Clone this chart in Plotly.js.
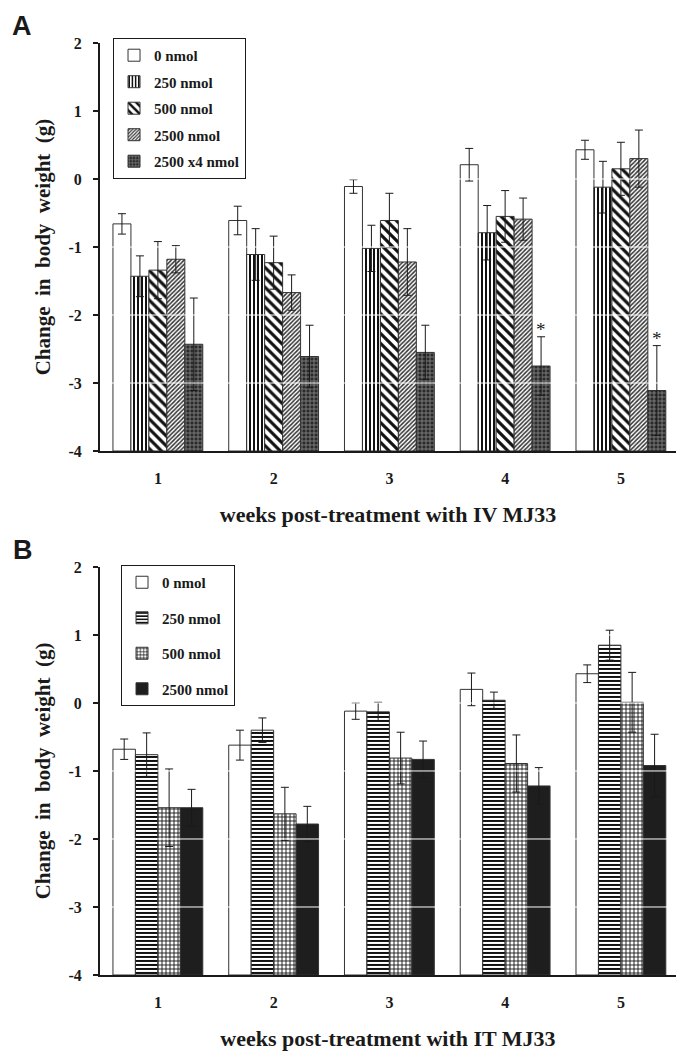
<!DOCTYPE html>
<html><head><meta charset="utf-8">
<script src="https://cdn.plot.ly/plotly-3.0.1.min.js"></script>
<style>html,body{margin:0;padding:0;background:#fff}#chart{width:676px;height:1051px}</style>
</head><body><div id="chart"></div>
<script>
// ---------- data ----------
const weeks = [1, 2, 3, 4, 5];
const yTicks = [-4, -3, -2, -1, 0, 1, 2];
const yTickText = ['-4', '-3', '-2', '-1', '0', '1', '2'];

// Panel A: IV MJ33
const seriesA = ['0 nmol', '250 nmol', '500 nmol', '2500 nmol', '2500 x4 nmol'];
const a0 = [-0.66, -0.61, -0.11, 0.21, 0.43];
const a0err = [0.15, 0.21, 0.10, 0.24, 0.14];
const a250 = [-1.43, -1.11, -1.02, -0.79, -0.12];
const a250err = [0.30, 0.38, 0.34, 0.40, 0.38];
const a500 = [-1.34, -1.23, -0.61, -0.55, 0.15];
const a500err = [0.42, 0.39, 0.40, 0.38, 0.39];
const a2500 = [-1.18, -1.67, -1.22, -0.59, 0.30];
const a2500err = [0.20, 0.26, 0.49, 0.31, 0.42];
const a2500x4 = [-2.43, -2.61, -2.55, -2.75, -3.11];
const a2500x4err = [0.68, 0.46, 0.40, 0.43, 0.66];
const sigA = ['', '', '', '*', '*'];

// Panel B: IT MJ33
const seriesB = ['0 nmol', '250 nmol', '500 nmol', '2500 nmol'];
const b0 = [-0.68, -0.62, -0.12, 0.20, 0.43];
const b0err = [0.15, 0.22, 0.12, 0.24, 0.13];
const b250 = [-0.76, -0.40, -0.13, 0.04, 0.85];
const b250err = [0.32, 0.18, 0.14, 0.12, 0.22];
const b500 = [-1.54, -1.63, -0.81, -0.89, 0.01];
const b500err = [0.57, 0.39, 0.38, 0.42, 0.44];
const b2500 = [-1.54, -1.78, -0.83, -1.22, -0.92];
const b2500err = [0.27, 0.26, 0.27, 0.27, 0.46];

// ---------- styles ----------
const FLOOR = -4;
const SERIF = 'Liberation Serif';
const SANS = 'Liberation Sans';
const ink = '#1a1a1a';
const stylesA = [
  {color: '#ffffff'},
  {color: '#ffffff', pattern: {shape: '|', fgcolor: '#111', bgcolor: '#fff', size: 4, solidity: 0.5, fillmode: 'replace'}},
  {color: '#ffffff', pattern: {shape: '\\', fgcolor: '#111', bgcolor: '#fff', size: 7, solidity: 0.45, fillmode: 'replace'}},
  {color: '#ffffff', pattern: {shape: '/', fgcolor: '#333', bgcolor: '#fff', size: 3, solidity: 0.5, fillmode: 'replace'}},
  {color: '#3a3a3a', pattern: {shape: '+', fgcolor: '#8a8a8a', bgcolor: '#2a2a2a', size: 4, solidity: 0.35, fillmode: 'replace'}}
];
const stylesB = [
  {color: '#ffffff'},
  {color: '#ffffff', pattern: {shape: '-', fgcolor: '#111', bgcolor: '#fff', size: 4, solidity: 0.5, fillmode: 'replace'}},
  {color: '#ffffff', pattern: {shape: '+', fgcolor: '#111', bgcolor: '#fff', size: 4, solidity: 0.4, fillmode: 'replace'}},
  {color: '#1e1e1e'}
];

const valsA = [a0, a250, a500, a2500, a2500x4];
const errsA = [a0err, a250err, a500err, a2500err, a2500x4err];
const valsB = [b0, b250, b500, b2500];
const errsB = [b0err, b250err, b500err, b2500err];

function makeBar(name, vals, errs, style, xa, ya, legend, idx) {
  const marker = Object.assign({line: {color: '#333', width: 1}}, style);
  return {
    type: 'bar', name: name, x: weeks,
    y: vals.map(v => v - FLOOR), base: FLOOR,
    xaxis: xa, yaxis: ya, legend: legend, legendgroup: legend + idx,
    marker: marker,
    error_y: {type: 'data', array: errs, color: ink, thickness: 1, width: 4},
    hoverinfo: 'skip'
  };
}

const traces = [];
seriesA.forEach((s, i) => traces.push(makeBar(s, valsA[i], errsA[i], stylesA[i], 'x', 'y', 'legend', i)));
seriesB.forEach((s, i) => traces.push(makeBar(s, valsB[i], errsB[i], stylesB[i], 'x2', 'y2', 'legend2', i)));

const BARGAP = 0.224;
const barW = (1 - BARGAP) / seriesA.length;

const annotations = [];
sigA.forEach((t, i) => {
  if (t) annotations.push({
    xref: 'x', yref: 'y', x: weeks[i] + 2 * barW, y: a2500x4[i] + a2500x4err[i],
    text: t, showarrow: false, yanchor: 'bottom', yshift: -5,
    font: {family: SERIF, size: 19, color: ink}
  });
});
annotations.push({xref: 'paper', yref: 'paper', x: -0.135, y: 1.0185, text: 'A', showarrow: false,
  xanchor: 'center', yanchor: 'middle', font: {family: SANS, size: 27, weight: 'bold', color: ink}});
annotations.push({xref: 'paper', yref: 'paper', x: -0.133, y: 0.4557, text: 'B', showarrow: false,
  xanchor: 'center', yanchor: 'middle', font: {family: SANS, size: 27, weight: 'bold', color: ink}});

// white grid lines drawn over bars
const shapes = [];
yTicks.filter(t => t > FLOOR && t < 2).forEach(t => {
  ['y', 'y2'].forEach((ya, k) => shapes.push({
    type: 'line', xref: (k ? 'x2' : 'x') + ' domain', x0: 0, x1: 1, yref: ya, y0: t, y1: t,
    line: {color: '#ffffff', width: 1}, layer: 'above'
  }));
});

const tickFont = {family: SERIF, size: 16, weight: 'bold', color: ink};
const xTitleFont = {family: SERIF, size: 22, weight: 'bold', color: ink};
const yTitleFont = {family: SERIF, size: 21, weight: 'bold', color: ink};
const yTitle = 'Change\u00a0 in\u00a0 body\u00a0 weight\u00a0 (g)';

function xAxis(title, anchor) {
  return {
    anchor: anchor, range: [0.5, 5.476], tickvals: weeks, ticks: '', showline: true,
    linecolor: ink, linewidth: 2, showgrid: false, zeroline: false,
    tickfont: tickFont, ticklabelstandoff: 12, fixedrange: true,
    title: {text: title, font: xTitleFont, standoff: 20}
  };
}
function yAxis(domain, anchor) {
  return {
    anchor: anchor, domain: domain, range: [-4, 2], tickvals: yTicks, ticktext: yTickText,
    ticks: 'outside', ticklen: 5, tickwidth: 2, tickcolor: ink, showline: true, linecolor: ink,
    linewidth: 2, showgrid: false, zeroline: false, tickfont: tickFont, ticklabelstandoff: 8,
    title: {text: yTitle, font: yTitleFont, standoff: 12}
  };
}

const legendBase = {
  xanchor: 'left', yanchor: 'top', bgcolor: '#ffffff', bordercolor: ink, borderwidth: 1,
  font: {family: SERIF, size: 15, weight: 'bold', color: ink}, traceorder: 'grouped',
  itemwidth: 30, itemclick: false, itemdoubleclick: false
};

const layout = {
  width: 676, height: 1051,
  margin: {l: 100, r: 0, t: 43, b: 76},
  paper_bgcolor: '#ffffff', plot_bgcolor: '#ffffff',
  barmode: 'group', bargap: BARGAP, bargroupgap: 0,
  showlegend: true,
  xaxis: xAxis('weeks post-treatment with IV MJ33', 'y'),
  yaxis: yAxis([0.5622, 1], 'x'),
  xaxis2: xAxis('weeks post-treatment with IT MJ33', 'y2'),
  yaxis2: yAxis([0, 0.4378], 'x2'),
  legend: Object.assign({}, legendBase, {x: 0.0226, y: 1.0054, tracegroupgap: 4}),
  legend2: Object.assign({}, legendBase, {x: 0.0365, y: 0.4399, tracegroupgap: 13}),
  annotations: annotations,
  shapes: shapes
};

Plotly.newPlot('chart', traces, layout, {displayModeBar: false, staticPlot: true});
</script>
</body></html>
